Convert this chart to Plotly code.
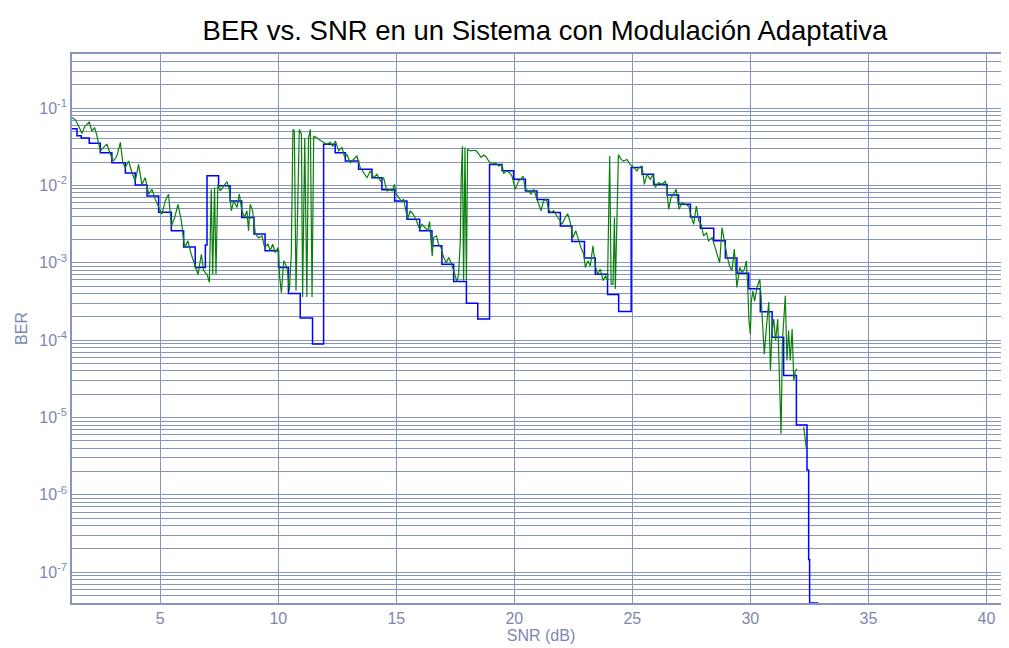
import plotly.graph_objects as go

# Theoretical BER (blue staircase)
snr_theory = [1.26, 1.47, 1.65, 1.99, 2.46, 2.95, 3.52, 3.94, 4.44, 4.93, 5.47, 5.99,
              6.48, 6.91, 6.98, 7.47, 7.96, 8.45, 8.97, 9.44, 10.01, 10.43, 10.93, 11.45,
              11.92, 12.41, 12.84, 13.40, 13.97, 14.39, 14.93, 15.45, 15.99, 16.51, 16.93, 17.43,
              17.97, 18.45, 18.95, 19.48, 19.97, 20.47, 20.96, 21.45, 21.95, 22.44, 22.97, 23.43,
              23.95, 24.42, 24.95, 25.41, 25.90, 26.47, 26.96, 27.46, 27.88, 28.45, 28.94, 29.43,
              29.93, 30.42, 30.92, 31.41, 31.95, 32.40, 32.47, 32.51, 32.88]
ber_theory = [5.4e-2, 4.4e-2, 4.1e-2, 3.5e-2, 2.65e-2, 1.97e-2, 1.45e-2, 1.01e-2, 7.3e-3, 4.5e-3, 2.6e-3, 1.6e-3,
              8.7e-4, 1.7e-3, 1.33e-2, 9.9e-3, 6.3e-3, 3.85e-3, 2.35e-3, 1.43e-3, 8.7e-4, 4.0e-4, 1.93e-4, 8.9e-5,
              3.4e-2, 2.65e-2, 2.07e-2, 1.62e-2, 1.26e-2, 8.8e-3, 6.3e-3, 3.66e-3, 2.6e-3, 1.66e-3, 9.6e-4, 5.75e-4,
              3.0e-4, 1.87e-4, 1.87e-2, 1.55e-2, 1.2e-2, 8.5e-3, 6.6e-3, 4.46e-3, 3.0e-3, 1.88e-3, 1.15e-3, 7.1e-4,
              3.9e-4, 2.35e-4, 1.7e-2, 1.39e-2, 1.03e-2, 7.5e-3, 5.7e-3, 3.9e-3, 2.8e-3, 1.92e-3, 1.15e-3, 7.3e-4,
              4.6e-4, 2.33e-4, 1.09e-4, 3.5e-5, 8.0e-6, 2.1e-6, 1.46e-7, 4.0e-8, 4.0e-8]

# Simulated BER (green), split by modulation region
snr_sim_a = [1.26, 1.40, 1.54, 1.68, 1.79, 1.89, 1.99, 2.10,
             2.22, 2.32, 2.46, 2.60, 2.74, 2.88, 3.02, 3.16,
             3.31, 3.41, 3.52, 3.66, 3.80, 3.94, 4.08, 4.22,
             4.36, 4.51, 4.65, 4.79, 4.93, 5.07, 5.21, 5.35,
             5.47, 5.61, 5.75, 5.89, 6.03, 6.17, 6.31, 6.46,
             6.60, 6.74, 6.84, 6.98, 7.08, 7.16, 7.22, 7.30,
             7.36, 7.44, 7.54, 7.68, 7.83, 7.92]
ber_sim_a = [7.5e-2, 7.1e-2, 5.85e-2, 4.7e-2, 5.7e-2, 6.2e-2, 6.65e-2, 5.05e-2,
             5.6e-2, 4.35e-2, 2.8e-2, 3.1e-2, 3.4e-2, 2.55e-2, 2.07e-2, 2.4e-2,
             3.6e-2, 1.97e-2, 1.7e-2, 2.07e-2, 1.46e-2, 1.14e-2, 1.87e-2, 1.03e-2,
             1.26e-2, 7.7e-3, 8.9e-3, 6.6e-3, 5.2e-3, 4.25e-3, 6.3e-3, 7.7e-3,
             3.0e-3, 3.85e-3, 5.7e-3, 3.5e-3, 1.57e-3, 1.92e-3, 1.29e-3, 9.6e-4,
             7.1e-4, 1.29e-3, 7.9e-4, 7.1e-4, 5.6e-4, 8.9e-3, 7.1e-4, 9.4e-3,
             7.1e-4, 1.03e-2, 8.5e-3, 9.8e-3, 1.12e-2, 8.9e-3]

snr_sim_b = [8.01, 8.11, 8.25, 8.35, 8.46, 8.57, 8.67, 8.74,
             8.81, 8.91, 9.03, 9.17, 9.31, 9.42, 9.56, 9.66,
             9.76, 9.87, 9.99, 10.06, 10.13, 10.23, 10.37, 10.47,
             10.55, 10.62, 10.68, 10.75, 10.83, 10.89, 10.98, 11.03,
             11.12, 11.21, 11.28, 11.36, 11.43, 11.50, 11.64, 11.78,
             11.92, 12.06, 12.20, 12.31, 12.42, 12.56, 12.70, 12.81,
             12.91, 13.05, 13.19, 13.33, 13.47, 13.62, 13.76, 13.90,
             14.04, 14.18, 14.32, 14.46, 14.60, 14.75]
ber_sim_b = [4.7e-3, 6.3e-3, 5.2e-3, 7.7e-3, 4.7e-3, 3.85e-3, 4.7e-3, 2.6e-3,
             5.7e-3, 4.7e-3, 2.35e-3, 2.1e-3, 2.23e-3, 1.58e-3, 1.74e-3, 1.43e-3,
             1.74e-3, 1.36e-3, 1.58e-3, 6.5e-4, 4.1e-4, 1.06e-3, 8.7e-4, 4.35e-4,
             1.29e-3, 5.3e-2, 5.05e-2, 4.35e-4, 4.7e-3, 5.3e-2, 4.6e-2, 3.6e-4,
             4.1e-2, 3.6e-4, 4.1e-2, 5.3e-2, 3.6e-4, 4.35e-2, 4.1e-2, 3.8e-2,
             3.6e-2, 3.4e-2, 3.6e-2, 3.2e-2, 3.75e-2, 2.8e-2, 3.1e-2, 2.3e-2,
             2.5e-2, 1.97e-2, 2.2e-2, 2.4e-2, 1.7e-2, 1.47e-2, 1.26e-2, 1.54e-2,
             1.26e-2, 1.39e-2, 1.14e-2, 1.26e-2, 8.5e-3, 8.9e-3]

snr_sim_c = [14.82, 14.92, 15.00, 15.10, 15.20, 15.31, 15.42, 15.48,
             15.59, 15.71, 15.81, 15.90, 15.99, 16.09, 16.23, 16.33,
             16.41, 16.47, 16.52, 16.58, 16.70, 16.79, 16.89, 17.01,
             17.12, 17.22, 17.32, 17.43, 17.50, 17.57, 17.64, 17.71,
             17.75, 17.80, 17.85, 17.91, 17.97, 18.02, 18.14, 18.28,
             18.39, 18.49, 18.59, 18.70, 18.81, 18.91, 19.05, 19.19,
             19.34, 19.48, 19.55, 19.66, 19.80, 19.90, 19.97, 20.04]
ber_sim_c = [8.5e-3, 1.03e-2, 7.7e-3, 7.0e-3, 6.3e-3, 6.6e-3, 4.7e-3, 3.65e-3,
             4.7e-3, 4.25e-3, 3.77e-3, 3.15e-3, 2.72e-3, 3.15e-3, 2.86e-3, 2.6e-3,
             3.4e-3, 2.12e-3, 1.23e-3, 2.12e-3, 2.23e-3, 1.74e-3, 1.58e-3, 1.17e-3,
             1.0e-3, 1.17e-3, 1.0e-3, 7.9e-4, 6.5e-4, 5.7e-4, 7.1e-4, 1.92e-3,
             1.26e-2, 3.2e-2, 5.9e-4, 3.1e-2, 5.9e-4, 2.9e-2, 2.8e-2, 2.85e-2,
             2.8e-2, 2.5e-2, 2.3e-2, 2.47e-2, 2.33e-2, 2.07e-2, 1.87e-2, 1.97e-2,
             1.78e-2, 1.87e-2, 1.42e-2, 1.54e-2, 1.46e-2, 1.32e-2, 1.09e-2, 8.9e-3]

snr_sim_d = [20.18, 20.28, 20.37, 20.47, 20.61, 20.71, 20.82, 20.93,
             21.03, 21.13, 21.24, 21.36, 21.45, 21.55, 21.67, 21.81,
             21.92, 22.02, 22.16, 22.26, 22.37, 22.49, 22.60, 22.73,
             22.82, 22.94, 23.01, 23.11, 23.22, 23.33, 23.43, 23.53,
             23.64, 23.76, 23.86, 23.95, 24.01, 24.04, 24.07, 24.10,
             24.18, 24.24, 24.28, 24.35, 24.41, 24.52, 24.63, 24.77,
             24.91]
ber_sim_d = [1.14e-2, 1.2e-2, 1.32e-2, 8.9e-3, 8.5e-3, 7.7e-3, 8.9e-3, 7.0e-3,
             6.0e-3, 4.7e-3, 6.3e-3, 6.6e-3, 4.9e-3, 4.46e-3, 4.7e-3, 4.0e-3,
             3.65e-3, 3.15e-3, 3.85e-3, 4.3e-3, 3.3e-3, 2.12e-3, 2.6e-3, 1.92e-3,
             1.58e-3, 1.29e-3, 8.7e-4, 1.06e-3, 9.1e-4, 1.66e-3, 9.1e-4, 7.1e-4,
             8.3e-4, 5.9e-4, 6.8e-4, 5.9e-4, 3.85e-3, 2.4e-2, 3.85e-3, 5.3e-4,
             5.3e-4, 3.85e-3, 4.6e-4, 3.85e-3, 2.5e-2, 2.17e-2, 2.07e-2, 2.17e-2,
             1.87e-2]

snr_sim_e = [25.06, 25.20, 25.27, 25.41, 25.51, 25.62, 25.76, 25.88,
             25.97, 26.12, 26.26, 26.40, 26.47, 26.54, 26.64, 26.75,
             26.86, 26.98, 27.10, 27.25, 27.39, 27.49, 27.60, 27.71,
             27.81, 27.91, 28.02, 28.14, 28.23, 28.38, 28.47, 28.59,
             28.70, 28.80, 28.90, 29.01, 29.12, 29.22, 29.32, 29.43,
             29.55, 29.65, 29.75, 29.83, 29.89]
ber_sim_e = [1.7e-2, 1.54e-2, 1.7e-2, 1.78e-2, 1.03e-2, 1.39e-2, 1.2e-2, 1.39e-2,
             9.4e-3, 1.09e-2, 1.03e-2, 1.14e-2, 8.5e-3, 4.9e-3, 7.0e-3, 7.7e-3,
             8.9e-3, 4.9e-3, 6.0e-3, 5.7e-3, 5.4e-3, 4.0e-3, 3.15e-3, 5.4e-3,
             3.5e-3, 3.15e-3, 2.23e-3, 2.46e-3, 1.92e-3, 2.12e-3, 1.74e-3, 1.36e-3,
             1.0e-3, 2.86e-3, 1.92e-3, 1.23e-3, 9.1e-4, 7.9e-4, 1.5e-3, 4.8e-4,
             8.7e-4, 7.5e-4, 8.3e-4, 1.06e-3, 4.8e-4]

snr_sim_f = [29.94, 30.00, 30.04, 30.11, 30.18, 30.28, 30.40, 30.45,
             30.54, 30.59, 30.68, 30.78, 30.85, 30.92, 30.99, 31.07,
             31.16, 31.24, 31.30, 31.36, 31.41, 31.48, 31.55, 31.62,
             31.69, 31.77, 31.84, 31.91, 31.98, None, 32.26, 32.37]
ber_sim_f = [1.79e-4, 1.2e-4, 3.2e-4, 4.35e-4, 3.2e-4, 4.8e-4, 6.15e-4, 3.75e-4,
             1.47e-4, 6.6e-5, 1.47e-4, 3.1e-4, 4.05e-5, 1.33e-4, 1.87e-4, 9.9e-5,
             1.87e-4, 3.3e-5, 6.15e-6, 9.9e-5, 1.62e-4, 3.75e-4, 5.45e-5, 1.33e-4,
             5.45e-5, 1.39e-4, 3.0e-5, 4.05e-5, 4.25e-5, None, 7.6e-6, 4.0e-6]

snr_sim = snr_sim_a + snr_sim_b + snr_sim_c + snr_sim_d + snr_sim_e + snr_sim_f
ber_sim = ber_sim_a + ber_sim_b + ber_sim_c + ber_sim_d + ber_sim_e + ber_sim_f

x_ticks = [5, 10, 15, 20, 25, 30, 35, 40]
y_decades = [1e-7, 1e-6, 1e-5, 1e-4, 1e-3, 1e-2, 1e-1]
y_labels = ["10<sup>-7</sup>", "10<sup>-6</sup>", "10<sup>-5</sup>", "10<sup>-4</sup>",
            "10<sup>-3</sup>", "10<sup>-2</sup>", "10<sup>-1</sup>"]

AXIS_COLOR = '#8795bb'
TEXT_COLOR = '#7b88ae'

# minor grid at 2..9 x 10^k
minor_vals = []
for k in range(-8, 0):
    for m in range(2, 10):
        v = m * 10.0 ** k
        if 4.0e-8 <= v <= 0.5:
            minor_vals.append(v)

fig = go.Figure()

fig.add_trace(go.Scatter(
    x=snr_theory, y=ber_theory,
    mode='lines', line=dict(color='#0000ff', width=1.5, shape='hv'),
    showlegend=False
))

fig.add_trace(go.Scatter(
    x=snr_sim, y=ber_sim,
    mode='lines', line=dict(color='#0b7f0b', width=1.2),
    connectgaps=False, showlegend=False
))

# page body adds an 8px offset, margins compensate for it
fig.update_layout(
    width=1009, height=648,
    title=dict(text='BER vs. SNR en un Sistema con Modulación Adaptativa',
               x=537 / 1009, xanchor='center', y=1 - 22 / 648, yanchor='middle',
               font=dict(family='Liberation Sans, Arial', size=27.5, color='black')),
    margin=dict(l=64, r=5, t=46, b=53),
    plot_bgcolor='white', paper_bgcolor='white',
    font=dict(family='Liberation Sans, Arial', color=TEXT_COLOR, size=16),
    xaxis=dict(
        range=[1.26, 41], tickvals=x_ticks, ticks='',
        showgrid=True, gridcolor=AXIS_COLOR, gridwidth=1.2, zeroline=False,
        showline=True, linecolor=AXIS_COLOR, linewidth=1.5, mirror=True,
        title=dict(text='SNR (dB)', font=dict(size=16, color=TEXT_COLOR), standoff=4),
        tickfont=dict(size=16, color=TEXT_COLOR)
    ),
    yaxis=dict(
        type='log', range=[-7.398, -0.301],
        tickvals=y_decades, ticktext=y_labels, ticks='',
        showgrid=True, gridcolor=AXIS_COLOR, gridwidth=1.2, zeroline=False,
        showline=True, linecolor=AXIS_COLOR, linewidth=1.5, mirror=True,
        minor=dict(tickvals=minor_vals, showgrid=True, gridcolor=AXIS_COLOR,
                   gridwidth=1.2, ticks=''),
        title=dict(text='BER', font=dict(size=16, color=TEXT_COLOR), standoff=8),
        tickfont=dict(size=16, color=TEXT_COLOR)
    ),
)

fig.write_html("out.html")
